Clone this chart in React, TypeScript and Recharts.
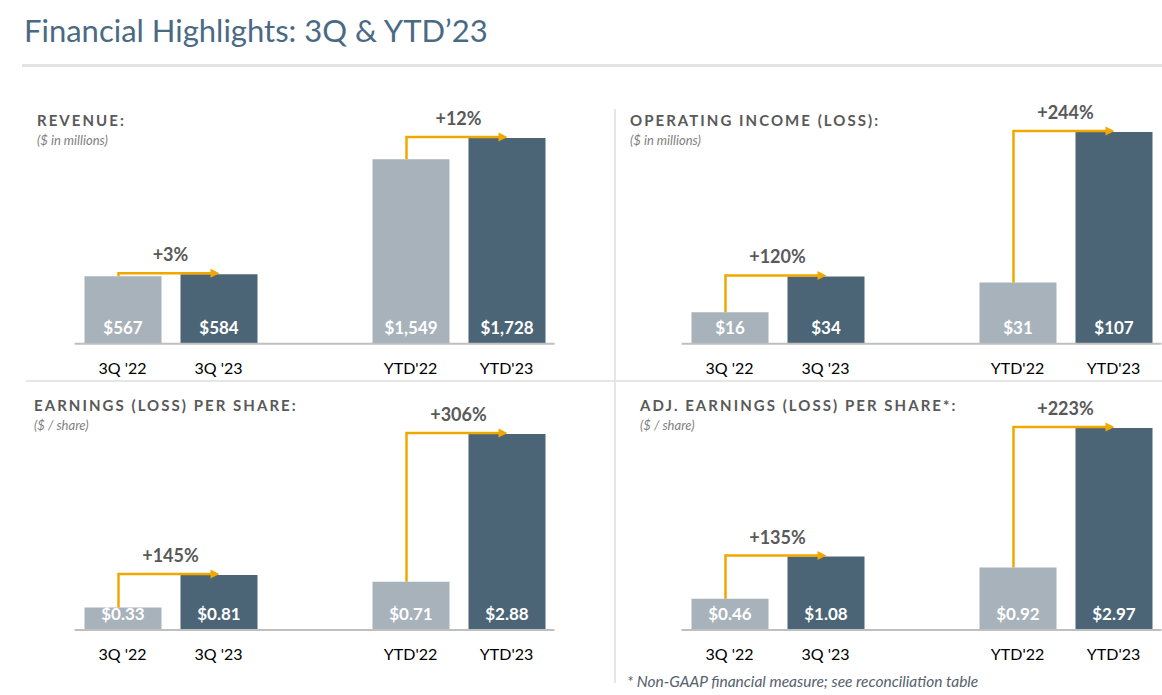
import React from "react";
import { BarChart, Bar, XAxis, YAxis, Cell, LabelList, ReferenceLine } from "recharts";

const FONT = "Lato, 'Open Sans', sans-serif";
const LIGHT = "#a7b2bb";
const DARK = "#4b6577";
const ARROW = "#f0a800";

// gap slot keeps the two year pairs apart
const categories = ["3Q '22", "3Q '23", " ", "YTD'22", "YTD'23"];

const revenue = [567, 584, null, 1549, 1728];
const operatingIncome = [16, 34, null, 31, 107];
const eps = [0.33, 0.81, null, 0.71, 2.88];
const adjEps = [0.46, 1.08, null, 0.92, 2.97];

const revenueGrowth = ["+3%", "+12%"];
const operatingGrowth = ["+120%", "+244%"];
const epsGrowth = ["+145%", "+306%"];
const adjEpsGrowth = ["+135%", "+223%"];

type Panel = {
  title: string;
  unit: string;
  titleX: number;
  titleY: number;
  values: (number | null)[];
  growth: string[];
  decimals: number;
  left: number;
  width: number;
  marginLeft: number;
  plotTop: number;
  plotBottom: number;
};

const panels: Panel[] = [
  {
    title: "REVENUE:",
    unit: "($ in millions)",
    titleX: 37,
    titleY: 111,
    values: revenue,
    growth: revenueGrowth,
    decimals: 0,
    left: 0,
    width: 600,
    marginLeft: 74.5,
    plotTop: 137.7,
    plotBottom: 343.5,
  },
  {
    title: "OPERATING INCOME (LOSS):",
    unit: "($ in millions)",
    titleX: 630,
    titleY: 111,
    values: operatingIncome,
    growth: operatingGrowth,
    decimals: 0,
    left: 600,
    width: 562,
    marginLeft: 81.5,
    plotTop: 131.7,
    plotBottom: 343.5,
  },
  {
    title: "EARNINGS (LOSS) PER SHARE:",
    unit: "($ / share)",
    titleX: 34,
    titleY: 396,
    values: eps,
    growth: epsGrowth,
    decimals: 2,
    left: 0,
    width: 600,
    marginLeft: 74.5,
    plotTop: 434,
    plotBottom: 630,
  },
  {
    title: "ADJ. EARNINGS (LOSS) PER SHARE*:",
    unit: "($ / share)",
    titleX: 640,
    titleY: 396,
    values: adjEps,
    growth: adjEpsGrowth,
    decimals: 2,
    left: 600,
    width: 562,
    marginLeft: 81.5,
    plotTop: 428,
    plotBottom: 630,
  },
];

const TOP_ROOM = 60;
const AXIS_H = 40;
const PLOT_W = 480;

// elbow arrow from the prior-year bar to the current-year bar, with the growth label
function growthArrow(label: string) {
  return (props: any) => {
    const { x1, y1, x2, y2 } = props;
    const sx = x1 - 4;
    const ly = y2 - 1;
    const tip = x2 + 1;
    return (
      <g>
        <path d={`M${sx},${y1} V${ly} H${tip - 8}`} fill="none" stroke={ARROW} strokeWidth={2.5} />
        <path d={`M${tip},${ly} L${tip - 9},${ly - 4.5} L${tip - 9},${ly + 4.5} Z`} fill={ARROW} />
        <text
          x={(x1 + x2) / 2}
          y={ly - 19}
          textAnchor="middle"
          dominantBaseline="central"
          fontFamily={FONT}
          fontWeight={700}
          fontSize={18}
          fill="#595959"
        >
          {label}
        </text>
      </g>
    );
  };
}

function PanelChart({ p }: { p: Panel }) {
  const data = categories.map((name, i) => ({ name, value: p.values[i] }));
  const height = p.plotBottom - p.plotTop + TOP_ROOM + AXIS_H;
  const fmt = (v: any) =>
    v == null
      ? ""
      : "$" +
        Number(v).toLocaleString("en-US", {
          minimumFractionDigits: p.decimals,
          maximumFractionDigits: p.decimals,
        });
  return (
    <div style={{ position: "absolute", left: p.left, top: p.plotTop - TOP_ROOM }}>
      <BarChart
        width={p.width}
        height={height}
        data={data}
        margin={{ top: TOP_ROOM, right: p.width - p.marginLeft - PLOT_W, bottom: 0, left: p.marginLeft }}
      >
        <XAxis
          dataKey="name"
          height={AXIS_H}
          interval={0}
          tickLine={false}
          tickSize={0}
          tickMargin={19}
          axisLine={{ stroke: "#bfbfbf", strokeWidth: 2 }}
          tick={{ fill: "#000", fontSize: 16, fontFamily: FONT }}
        />
        <YAxis hide domain={[0, "dataMax"]} />
        <Bar dataKey="value" barSize={77} isAnimationActive={false}>
          {data.map((_, i) => (
            <Cell key={i} fill={i === 0 || i === 3 ? LIGHT : DARK} />
          ))}
          <LabelList
            dataKey="value"
            position="insideBottom"
            offset={10}
            formatter={fmt}
            fill="#fff"
            fontSize={17}
            fontWeight={700}
            fontFamily={FONT}
          />
        </Bar>
        <ReferenceLine
          segment={[
            { x: categories[0], y: p.values[0] },
            { x: categories[1], y: p.values[1] },
          ]}
          shape={growthArrow(p.growth[0])}
        />
        <ReferenceLine
          segment={[
            { x: categories[3], y: p.values[3] },
            { x: categories[4], y: p.values[4] },
          ]}
          shape={growthArrow(p.growth[1])}
        />
      </BarChart>
    </div>
  );
}

export default function App() {
  return (
    <div
      style={{
        position: "absolute",
        left: 0,
        top: 0,
        width: 1162,
        height: 695,
        background: "#fff",
        fontFamily: FONT,
        overflow: "hidden",
      }}
    >
      <div style={{ position: "absolute", left: 24, top: 11, fontSize: 31, color: "#4a6a84", whiteSpace: "nowrap" }}>
        Financial Highlights: 3Q &amp; YTD’23
      </div>
      <div style={{ position: "absolute", left: 22, top: 64, width: 1140, height: 3, background: "#e3e3e3" }} />
      <div style={{ position: "absolute", left: 26, top: 380, width: 1136, height: 2, background: "#e6e6e6" }} />
      <div style={{ position: "absolute", left: 614, top: 109, width: 2, height: 574, background: "#e6e6e6" }} />

      {panels.map((p) => (
        <React.Fragment key={p.title}>
          <div
            style={{
              position: "absolute",
              left: p.titleX,
              top: p.titleY,
              fontSize: 15,
              fontWeight: 700,
              letterSpacing: 2.05,
              color: "#595959",
              whiteSpace: "nowrap",
              lineHeight: "18px",
            }}
          >
            {p.title}
          </div>
          <div
            style={{
              position: "absolute",
              left: p.titleX,
              top: p.titleY + 22,
              fontSize: 13,
              fontStyle: "italic",
              color: "#7f7f7f",
              whiteSpace: "nowrap",
              lineHeight: "14px",
            }}
          >
            {p.unit}
          </div>
          <PanelChart p={p} />
        </React.Fragment>
      ))}

      <div
        style={{
          position: "absolute",
          left: 627,
          top: 672,
          fontSize: 15.5,
          fontStyle: "italic",
          color: "#55616d",
          whiteSpace: "nowrap",
          lineHeight: "18px",
        }}
      >
        * Non-GAAP financial measure; see reconciliation table
      </div>
    </div>
  );
}
